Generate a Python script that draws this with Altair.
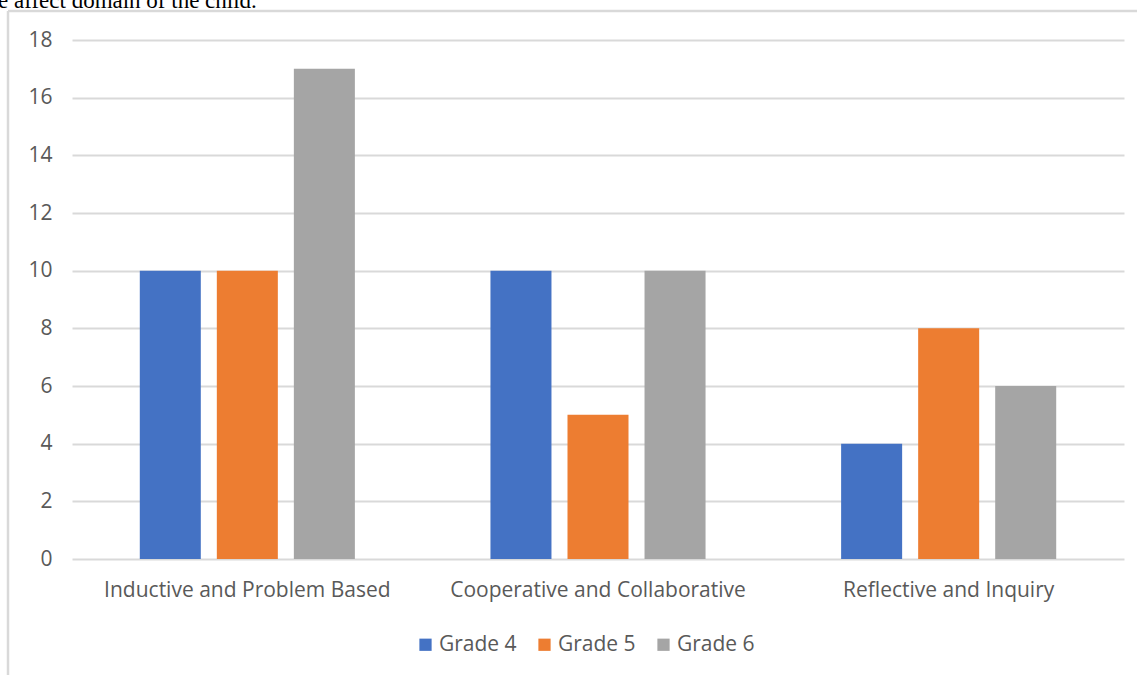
import altair as alt
import pandas as pd

# Teaching approaches used per grade level
categories = [
    "Inductive and Problem Based",
    "Cooperative and Collaborative",
    "Reflective and Inquiry",
]
grades = ["Grade 4", "Grade 5", "Grade 6"]
grade4 = [10, 10, 4]
grade5 = [10, 5, 8]
grade6 = [17, 10, 6]
colors = ["#4472C4", "#ED7D31", "#A5A5A5"]
y_ticks = list(range(0, 20, 2))
caption = "e affect domain of the child."

rows = []
for g, vals in zip(grades, [grade4, grade5, grade6]):
    for c, v in zip(categories, vals):
        rows.append({"category": c, "grade": g, "count": v})
df = pd.DataFrame(rows)

W, H = 1052, 519
PAD_L, PAD_T, PAD_R, PAD_B = 72, 40, 13, 116
TEXT = "#595959"
GRID = "#D9D9D9"
FONT = "Open Sans"

bars = alt.Chart(df).mark_bar().encode(
    x=alt.X(
        "category:N",
        sort=categories,
        scale=alt.Scale(paddingInner=0, paddingOuter=0),
        axis=alt.Axis(
            title=None, labelAngle=0, domain=False, ticks=False, grid=False,
            labelPadding=20, labelFontSize=21, labelColor=TEXT, labelFont=FONT,
            labelLimit=0,
        ),
    ),
    xOffset=alt.XOffset(
        "grade:N", sort=grades,
        scale=alt.Scale(paddingInner=0.208, paddingOuter=0.88),
    ),
    y=alt.Y(
        "count:Q",
        scale=alt.Scale(domain=[0, 18], nice=False),
        axis=alt.Axis(
            title=None, values=y_ticks, domain=False, ticks=False,
            grid=True, gridColor=GRID, gridWidth=2,
            labelPadding=20, labelFontSize=21, labelColor=TEXT, labelFont=FONT,
        ),
    ),
    color=alt.Color(
        "grade:N",
        sort=grades,
        scale=alt.Scale(domain=grades, range=colors),
        legend=alt.Legend(
            title=None, orient="none", direction="horizontal",
            legendX=343, legendY=594,
            symbolType="square", symbolSize=150, symbolStrokeWidth=0,
            labelFontSize=21, labelColor=TEXT, labelFont=FONT,
            labelOffset=3, columnPadding=17, labelLimit=0,
        ),
    ),
)

one = pd.DataFrame({"k": [0]})

# Frame around the figure (top and left edges)
frame_top = alt.Chart(one).mark_rule(color=GRID, strokeWidth=2.5, clip=False).encode(
    x=alt.value(8 - PAD_L), x2=alt.value(1137 - PAD_L), y=alt.value(11 - PAD_T)
)
frame_left = alt.Chart(one).mark_rule(color=GRID, strokeWidth=2.5, clip=False).encode(
    x=alt.value(8 - PAD_L), y=alt.value(11 - PAD_T), y2=alt.value(675 - PAD_T)
)

# Tail of the preceding paragraph line
caption_text = alt.Chart(one).mark_text(
    text=caption, align="left", baseline="alphabetic",
    font="Liberation Serif", fontSize=23, color="#000000", clip=False,
).encode(x=alt.value(-2 - PAD_L), y=alt.value(8 - PAD_T))

chart = alt.layer(frame_top, frame_left, caption_text, bars).properties(
    width=W, height=H,
    padding={"left": PAD_L, "top": PAD_T, "right": PAD_R, "bottom": PAD_B},
    autosize=alt.AutoSizeParams(type="none"),
    background="white",
).configure_view(stroke=None)

chart.save("out.html", embed_options={"renderer": "svg", "actions": False})
